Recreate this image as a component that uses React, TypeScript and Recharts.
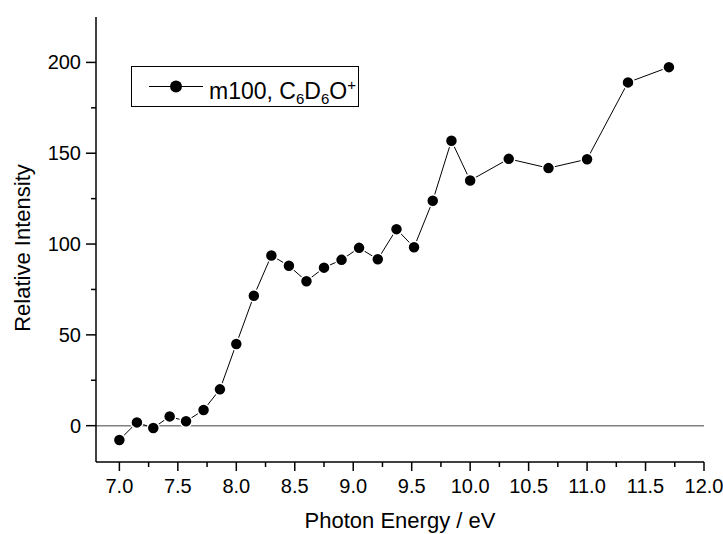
import React from 'react';
import { LineChart, Line, XAxis, YAxis, ReferenceLine, Legend } from 'recharts';

// Photon energy (eV) and relative intensity
const energies = [
  7.0, 7.15, 7.29, 7.43, 7.57, 7.72, 7.86, 8.0, 8.15, 8.3, 8.45, 8.6, 8.75,
  8.9, 9.05, 9.21, 9.37, 9.52, 9.68, 9.84, 10.0, 10.33, 10.67, 11.0, 11.35, 11.7,
];
const intensities = [
  -7.9, 1.8, -1.3, 5.1, 2.4, 8.6, 20.0, 45.0, 71.5, 93.7, 88.0, 79.5, 87.0,
  91.3, 97.9, 91.6, 108.2, 98.2, 123.8, 156.9, 135.0, 146.9, 141.8, 146.7, 189.0, 197.4,
];

const xTicks = [
  7.0, 7.25, 7.5, 7.75, 8.0, 8.25, 8.5, 8.75, 9.0, 9.25, 9.5, 9.75, 10.0,
  10.25, 10.5, 10.75, 11.0, 11.25, 11.5, 11.75, 12.0,
];
const yTicks = [0, 25, 50, 75, 100, 125, 150, 175, 200];

const data = energies.map((e, i) => ({ energy: e, intensity: intensities[i] }));

const FONT = '"Liberation Sans", Arial, sans-serif';

const BottomTick = (props: any) => {
  const { x, y, payload } = props;
  const major = Number.isInteger(payload.value * 2);
  return (
    <g>
      <line x1={x} x2={x} y1={y} y2={y + (major ? 9 : 5)} stroke="#000" strokeWidth={1.5} />
      {major && (
        <text x={x} y={y + 31} textAnchor="middle" fontSize={20} fontFamily={FONT} fill="#000">
          {payload.value.toFixed(1)}
        </text>
      )}
    </g>
  );
};

const LeftTick = (props: any) => {
  const { x, y, payload } = props;
  const major = payload.value % 50 === 0;
  return (
    <g>
      <line x1={x - (major ? 10 : 5)} x2={x} y1={y} y2={y} stroke="#000" strokeWidth={1.5} />
      {major && (
        <text x={x - 15} y={y + 7} textAnchor="end" fontSize={20} fontFamily={FONT} fill="#000">
          {payload.value}
        </text>
      )}
    </g>
  );
};

const TopTick = (props: any) => {
  const { x, y } = props;
  return <line x1={x} x2={x} y1={y} y2={y + 3} stroke="#555" strokeWidth={1} />;
};

const RightTick = (props: any) => {
  const { x, y } = props;
  return <line x1={x - 3} x2={x} y1={y} y2={y} stroke="#555" strokeWidth={1} />;
};

const LegendBox = () => (
  <div
    style={{
      boxSizing: 'border-box',
      width: 228,
      height: 41,
      border: '1.5px solid #000',
      background: '#fff',
      position: 'relative',
      fontFamily: FONT,
    }}
  >
    <svg width={75} height={38} style={{ position: 'absolute', left: 0, top: 0 }}>
      <line x1={17} x2={71} y1={19.5} y2={19.5} stroke="#000" strokeWidth={1} />
      <circle cx={44} cy={19.5} r={6} fill="#000" />
    </svg>
    <div
      style={{
        position: 'absolute',
        left: 77,
        top: 4,
        fontSize: 23,
        lineHeight: '27px',
        color: '#000',
        whiteSpace: 'nowrap',
      }}
    >
      m100, C<sub style={{ fontSize: 15, verticalAlign: '-5px' }}>6</sub>D
      <sub style={{ fontSize: 15, verticalAlign: '-5px' }}>6</sub>O
      <sup style={{ fontSize: 15, verticalAlign: '9px' }}>+</sup>
    </div>
  </div>
);

export default function App() {
  return (
    <div style={{ position: 'absolute', left: 0, top: 0, width: 723, height: 534, background: '#fff' }}>
      <LineChart width={723} height={534} data={data} margin={{ top: 17, right: 19, left: 0, bottom: 0 }}>
        <XAxis
          dataKey="energy"
          type="number"
          domain={[6.8, 12]}
          ticks={xTicks}
          interval={0}
          tickSize={0}
          tickMargin={0}
          tickLine={false}
          tick={<BottomTick />}
          height={72}
          axisLine={{ stroke: '#000', strokeWidth: 1.5 }}
          allowDataOverflow
          label={{
            content: () => (
              <text x={400} y={528} textAnchor="middle" fontSize={22} fontFamily={FONT} fill="#000">
                Photon Energy / eV
              </text>
            ),
          }}
        />
        <XAxis
          xAxisId="top"
          orientation="top"
          dataKey="energy"
          type="number"
          domain={[6.8, 12]}
          ticks={xTicks}
          interval={0}
          tickSize={0}
          tickMargin={0}
          tickLine={false}
          tick={<TopTick />}
          height={0}
          axisLine={{ stroke: '#000', strokeWidth: 1.5 }}
          allowDataOverflow
        />
        <YAxis
          type="number"
          domain={[-20, 225]}
          ticks={yTicks}
          interval={0}
          tickSize={0}
          tickMargin={0}
          tickLine={false}
          tick={<LeftTick />}
          width={96}
          axisLine={{ stroke: '#000', strokeWidth: 1.5 }}
          allowDataOverflow
          label={{
            content: () => (
              <text
                x={22}
                y={248}
                transform="rotate(-90 22 248)"
                textAnchor="middle"
                dominantBaseline="central"
                fontSize={22}
                fontFamily={FONT}
                fill="#000"
              >
                Relative Intensity
              </text>
            ),
          }}
        />
        <YAxis
          yAxisId="right"
          orientation="right"
          type="number"
          domain={[-20, 225]}
          ticks={yTicks}
          interval={0}
          tickSize={0}
          tickMargin={0}
          tickLine={false}
          tick={<RightTick />}
          width={0}
          axisLine={{ stroke: '#000', strokeWidth: 1.5 }}
          allowDataOverflow
        />
        <ReferenceLine y={0} stroke="#808080" strokeWidth={1.5} />
        <Legend
          layout="horizontal"
          verticalAlign="middle"
          align="center"
          content={() => <LegendBox />}
          wrapperStyle={{ position: 'absolute', left: 131, top: 66, width: 228, height: 41 }}
        />
        <Line
          dataKey="intensity"
          type="linear"
          stroke="#000"
          strokeWidth={1}
          dot={{ r: 6, fill: '#000', stroke: '#fff', strokeWidth: 1.5 }}
          activeDot={false}
          isAnimationActive={false}
        />
      </LineChart>
    </div>
  );
}
